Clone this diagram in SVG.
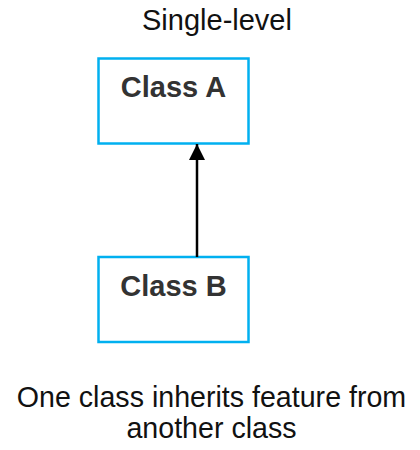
<svg xmlns="http://www.w3.org/2000/svg" width="420" height="450" viewBox="0 0 420 450">
  <style>
    .box { fill: #ffffff; stroke: #00b0f0; stroke-width: 2.5; }
    .label { font-family: "Liberation Sans", Arial, sans-serif; font-size: 29px; font-weight: bold; fill: #333333; text-anchor: middle; }
    .caption { font-family: "Liberation Sans", Arial, sans-serif; font-size: 28.6px; fill: #111111; text-anchor: middle; }
    .edge { stroke: #000000; stroke-width: 2.5; fill: none; }
  </style>
  <defs>
    <marker id="arrow" markerUnits="userSpaceOnUse" markerWidth="16" markerHeight="16" viewBox="0 0 16 16" refX="16" refY="8" orient="auto">
      <path d="M0,0 L16,8 L0,16 Z" fill="#000000"/>
    </marker>
  </defs>

  <text class="caption" x="217" y="30" style="font-size:29px">Single-level</text>

  <g id="classA">
    <rect class="box" x="98.5" y="58.5" width="150" height="85"/>
    <text class="label" x="173.5" y="97">Class A</text>
  </g>

  <g id="classB">
    <rect class="box" x="98.5" y="257" width="150" height="85"/>
    <text class="label" x="173.5" y="296">Class B</text>
  </g>

  <g id="connectors">
    <line class="edge" x1="197" y1="257" x2="197" y2="144" marker-end="url(#arrow)"/>
  </g>

  <text class="caption" x="211.5" y="407">One class inherits feature from</text>
  <text class="caption" x="211.5" y="438">another class</text>
</svg>
